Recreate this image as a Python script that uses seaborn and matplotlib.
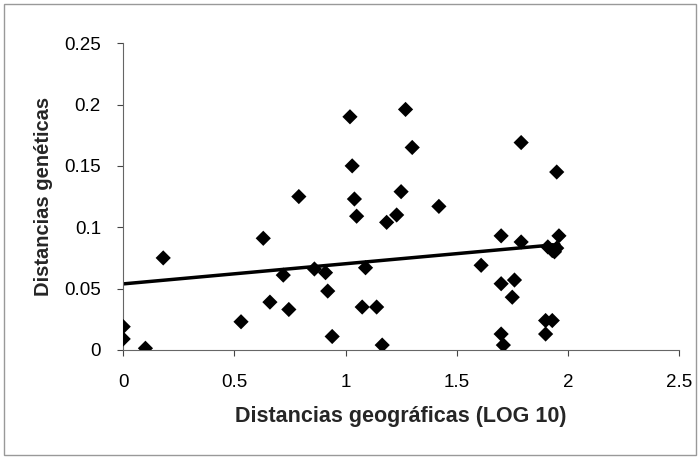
import matplotlib
matplotlib.use("Agg")
import matplotlib.pyplot as plt
import seaborn as sns
import pandas as pd
import numpy as np
from matplotlib.patches import Rectangle

# Data
dist_geo = [0.0, 0.0, 0.10, 0.18, 0.53, 0.63, 0.66, 0.72, 0.745, 0.79,
            0.86, 0.91, 0.92, 0.94, 1.02, 1.03, 1.04, 1.05, 1.09, 1.075,
            1.14, 1.165, 1.185, 1.23, 1.25, 1.27, 1.30, 1.42, 1.61, 1.70,
            1.70, 1.70, 1.71, 1.76, 1.75, 1.79, 1.79, 1.90, 1.90, 1.93,
            1.91, 1.93, 1.94, 1.95, 1.95, 1.96]
dist_gen = [0.019, 0.009, 0.0014, 0.075, 0.023, 0.091, 0.039, 0.061, 0.033, 0.125,
            0.066, 0.063, 0.048, 0.011, 0.190, 0.150, 0.123, 0.109, 0.067, 0.035,
            0.035, 0.004, 0.104, 0.110, 0.129, 0.196, 0.165, 0.117, 0.069, 0.093,
            0.054, 0.013, 0.004, 0.057, 0.043, 0.169, 0.088, 0.013, 0.024, 0.024,
            0.084, 0.081, 0.080, 0.083, 0.145, 0.093]
x_ticks = [0, 0.5, 1, 1.5, 2, 2.5]
x_tick_labels = ["0", "0.5", "1", "1.5", "2", "2.5"]
y_ticks = [0, 0.05, 0.1, 0.15, 0.2, 0.25]
y_tick_labels = ["0", "0.05", "0.1", "0.15", "0.2", "0.25"]

df = pd.DataFrame({"geo": dist_geo, "gen": dist_gen})

sns.set_theme(style="white")
plt.rcParams["font.family"] = ["Liberation Sans", "DejaVu Sans"]

fig = plt.figure(figsize=(7.0, 4.59), dpi=100)
ax = fig.add_axes([0.176, 0.2375, 0.794, 0.6685])

sns.regplot(data=df, x="geo", y="gen", ax=ax, ci=None, truncate=True,
            marker="D",
            scatter_kws={"s": 60, "color": "black", "alpha": 1.0,
                         "edgecolors": "none", "zorder": 3},
            line_kws={"color": "black", "lw": 2.5, "zorder": 2})

ax.set_xlim(0, 2.5)
ax.set_ylim(0, 0.25)
ax.set_xticks(x_ticks)
ax.set_xticklabels(x_tick_labels)
ax.set_yticks(y_ticks)
ax.set_yticklabels(y_tick_labels)
ax.tick_params(axis="both", labelsize=13.5, direction="out", length=4, width=0.8,
               colors="#444444", labelcolor="black", bottom=True, left=True)
ax.tick_params(axis="x", pad=13)
ax.tick_params(axis="y", pad=12)

for side in ["top", "right"]:
    ax.spines[side].set_visible(False)
for side in ["left", "bottom"]:
    ax.spines[side].set_color("#666666")
    ax.spines[side].set_linewidth(0.8)

ax.set_xlabel("Distancias geográficas (LOG 10)", fontsize=15.5, fontweight="bold", labelpad=11)
ax.set_ylabel("Distancias genéticas", fontsize=14.5, fontweight="bold", labelpad=8)

fig.patches.append(Rectangle((0.006, 0.008), 0.988, 0.984, transform=fig.transFigure,
                             fill=False, edgecolor="#999999", lw=1.0))

fig.savefig("out.png", dpi=100)
